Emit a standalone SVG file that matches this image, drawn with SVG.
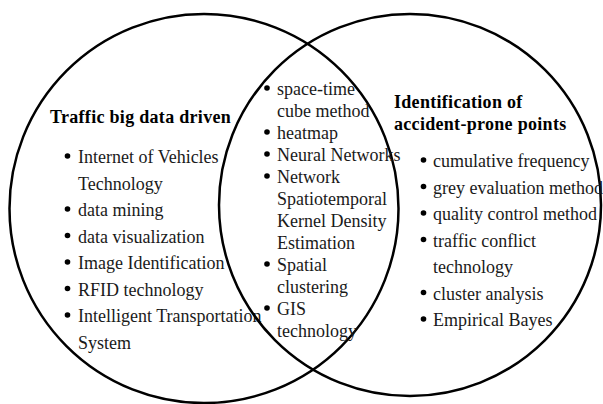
<svg xmlns="http://www.w3.org/2000/svg" width="603" height="404" viewBox="0 0 603 404">
<style>
  .c { fill: none; stroke: #000; stroke-width: 2.5; }
  text { font-family: "Liberation Serif", "Times New Roman", serif; font-size: 18px; fill: #1a1a1a; }
  .t { font-weight: bold; font-size: 18px; fill: #000; letter-spacing: 0.3px; }
  .b { fill: #000; }
</style>
<rect width="603" height="404" fill="#fff"/>
<g id="connectors"></g>
<g id="left-set">
  <circle class="c" cx="204" cy="208.5" r="194.5"/>
  <text class="t" x="50" y="123">Traffic big data driven</text>
  <circle class="b" cx="67.5" cy="156" r="2.8"/><text x="78" y="163">Internet of Vehicles</text>
  <text x="78" y="189.5">Technology</text>
  <circle class="b" cx="67.5" cy="209" r="2.8"/><text x="78" y="216">data mining</text>
  <circle class="b" cx="67.5" cy="235.5" r="2.8"/><text x="78" y="242.5">data visualization</text>
  <circle class="b" cx="67.5" cy="262" r="2.8"/><text x="78" y="269">Image Identification</text>
  <circle class="b" cx="67.5" cy="288.5" r="2.8"/><text x="78" y="295.5">RFID technology</text>
  <circle class="b" cx="67.5" cy="315" r="2.8"/><text x="78" y="322">Intelligent Transportation</text>
  <text x="78" y="348.5">System</text>
</g>
<g id="right-set">
  <circle class="c" cx="410" cy="205" r="191"/>
  <text class="t" x="394" y="108">Identification of</text>
  <text class="t" x="394" y="130">accident-prone points</text>
  <circle class="b" cx="423.5" cy="160" r="2.8"/><text x="433" y="167">cumulative frequency</text>
  <circle class="b" cx="423.5" cy="186.5" r="2.8"/><text x="433" y="193.5">grey evaluation method</text>
  <circle class="b" cx="423.5" cy="213" r="2.8"/><text x="433" y="220">quality control method</text>
  <circle class="b" cx="423.5" cy="239.5" r="2.8"/><text x="433" y="246.5">traffic conflict</text>
  <text x="433" y="273">technology</text>
  <circle class="b" cx="423.5" cy="292.5" r="2.8"/><text x="433" y="299.5">cluster analysis</text>
  <circle class="b" cx="423.5" cy="319" r="2.8"/><text x="433" y="326">Empirical Bayes</text>
</g>
<g id="intersection">
  <circle class="b" cx="267" cy="88" r="2.8"/><text x="277" y="95">space-time</text>
  <text x="277" y="117">cube method</text>
  <circle class="b" cx="267" cy="132" r="2.8"/><text x="277" y="139">heatmap</text>
  <circle class="b" cx="267" cy="154" r="2.8"/><text x="277" y="161">Neural Networks</text>
  <circle class="b" cx="267" cy="176" r="2.8"/><text x="277" y="183">Network</text>
  <text x="277" y="205">Spatiotemporal</text>
  <text x="277" y="227">Kernel Density</text>
  <text x="277" y="249">Estimation</text>
  <circle class="b" cx="267" cy="264" r="2.8"/><text x="277" y="271">Spatial</text>
  <text x="277" y="293">clustering</text>
  <circle class="b" cx="267" cy="308" r="2.8"/><text x="277" y="315">GIS</text>
  <text x="277" y="337">technology</text>
</g>
</svg>
